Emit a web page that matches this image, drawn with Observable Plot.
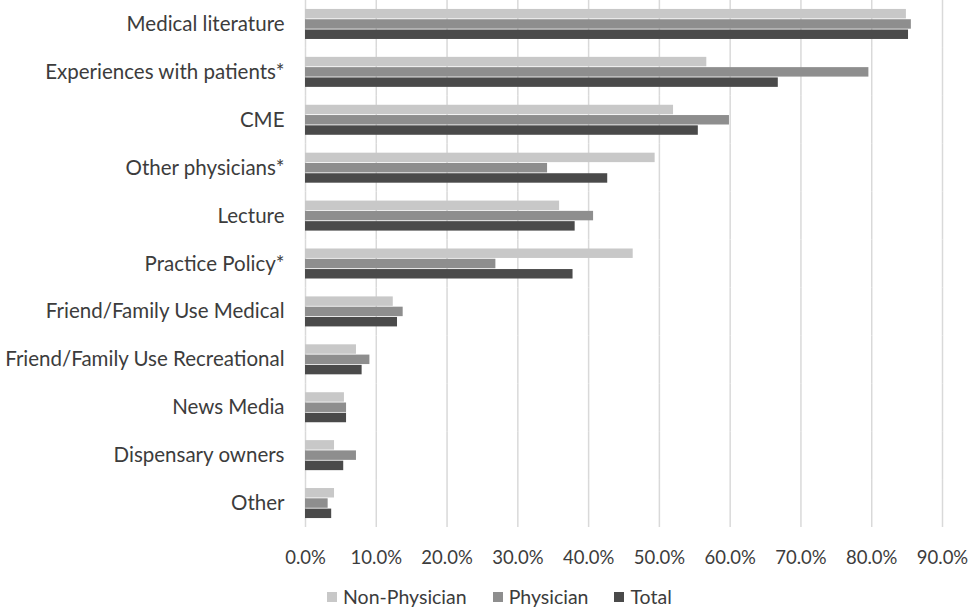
<!DOCTYPE html>
<html>
<head>
<meta charset="utf-8">
<script src="https://cdn.jsdelivr.net/npm/d3@7"></script>
<script src="https://cdn.jsdelivr.net/npm/@observablehq/plot@0.6"></script>
<style>
  html, body { margin: 0; padding: 0; background: #fff; }
  #chart { width: 972px; height: 610px; position: relative; overflow: hidden; }
  #chart svg { display: block; }
  #chart svg g[aria-label="fy-axis tick label"] text { font-size: 20.5px; }
  #chart svg g[aria-label="x-axis tick label"] text { font-size: 18.5px; }
  .legend { position: absolute; left: 327px; top: 586px; display: flex; align-items: center;
            font-family: Lato, sans-serif; font-size: 19.5px; color: #3c3c3c; line-height: 22px; }
  .legend .item { display: flex; align-items: center; margin-right: 26px; }
  .legend .sw { width: 10px; height: 10px; margin-right: 6px; }
</style>
</head>
<body>
<div id="chart"></div>
<script>
const categories = [
  "Medical literature",
  "Experiences with patients*",
  "CME",
  "Other physicians*",
  "Lecture",
  "Practice Policy*",
  "Friend/Family Use Medical",
  "Friend/Family Use Recreational",
  "News Media",
  "Dispensary owners",
  "Other"
];
const series = ["Non-Physician", "Physician", "Total"];
const nonPhysician = [84.9, 56.7, 52.0, 49.4, 35.9, 46.3, 12.4, 7.2, 5.5, 4.1, 4.1];
const physician    = [85.6, 79.6, 59.9, 34.2, 40.7, 26.9, 13.8, 9.1, 5.8, 7.2, 3.2];
const total        = [85.2, 66.8, 55.5, 42.7, 38.1, 37.8, 13.0, 8.0, 5.8, 5.4, 3.7];
const xTicks = [0, 10, 20, 30, 40, 50, 60, 70, 80, 90];
const colors = ["#c8c8c8", "#8e8e8e", "#4a4a4a"];

const seriesValues = [nonPhysician, physician, total];
const data = [];
categories.forEach((c, i) => {
  series.forEach((s, j) => data.push({category: c, series: s, value: seriesValues[j][i]}));
});

const chart = Plot.plot({
  width: 972,
  height: 575,
  marginLeft: 305,
  marginRight: 30,
  marginTop: 0,
  marginBottom: 48,
  style: {fontFamily: "Lato, sans-serif", fontSize: "17px", color: "#3c3c3c", background: "#fff"},
  x: {domain: [0, 90], ticks: xTicks, tickFormat: d => d.toFixed(1) + "%", tickSize: 0, tickPadding: 23, label: null},
  fy: {domain: categories, padding: 0, round: false, label: null, tickSize: 0, tickPadding: 21, axis: "left"},
  y: {domain: series, axis: null, round: false, paddingInner: 0.08, paddingOuter: 0.87},
  color: {domain: series, range: colors},
  marks: [
    Plot.ruleX(xTicks, {stroke: "#d9d9d9", strokeWidth: 1.5}),
    Plot.barX(data, {x: "value", y: "series", fy: "category", fill: "series"})
  ]
});
const root = document.getElementById("chart");
root.appendChild(chart);

const legend = document.createElement("div");
legend.className = "legend";
series.forEach((s, j) => {
  const item = document.createElement("div");
  item.className = "item";
  const sw = document.createElement("div");
  sw.className = "sw";
  sw.style.background = colors[j];
  const label = document.createElement("span");
  label.textContent = s;
  item.appendChild(sw);
  item.appendChild(label);
  legend.appendChild(item);
});
root.appendChild(legend);
</script>
</body>
</html>
